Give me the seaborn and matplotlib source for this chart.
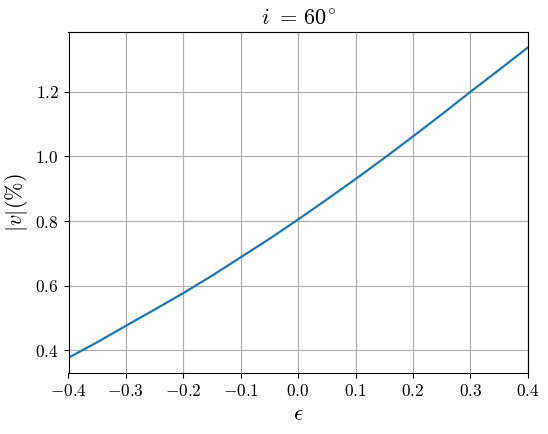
import numpy as np
import pandas as pd
import matplotlib
matplotlib.use("Agg")
import matplotlib.pyplot as plt
import seaborn as sns

# values
eps = [-0.40, -0.35, -0.30, -0.25, -0.20, -0.15, -0.10, -0.05, 0.00,
       0.05, 0.10, 0.15, 0.20, 0.25, 0.30, 0.35, 0.40]
v_abs = [0.377, 0.425, 0.476, 0.526, 0.577, 0.631, 0.688, 0.745, 0.805,
         0.867, 0.930, 0.995, 1.062, 1.130, 1.200, 1.268, 1.337]
xticks = [-0.4, -0.3, -0.2, -0.1, 0.0, 0.1, 0.2, 0.3, 0.4]
yticks = [0.4, 0.6, 0.8, 1.0, 1.2]

df = pd.DataFrame({"eps": eps, "v": v_abs})

plt.rcParams["font.family"] = "serif"
plt.rcParams["font.serif"] = ["cmr10", "DejaVu Serif"]
plt.rcParams["mathtext.fontset"] = "cm"
plt.rcParams["axes.formatter.use_mathtext"] = True

fig, ax = plt.subplots(figsize=(5.48, 4.34), dpi=100)
sns.lineplot(data=df, x="eps", y="v", color="#1f77b4", linewidth=1.6, ax=ax)
ax.set_xlim(-0.4, 0.4)
ax.set_xticks(xticks)
ax.set_yticks(yticks)
ax.grid(True, color="#b0b0b0", linewidth=0.9)
ax.tick_params(labelsize=12.5)
ax.set_title(r"$i\,\,=\,60^{\!\circ}$", fontsize=16)
ax.set_xlabel(r"$\epsilon$", fontsize=16)
ax.set_ylabel(r"$|v| (\%)$", fontsize=16)
fig.subplots_adjust(left=0.125, right=0.963, top=0.926, bottom=0.14)
plt.savefig("out.png")
